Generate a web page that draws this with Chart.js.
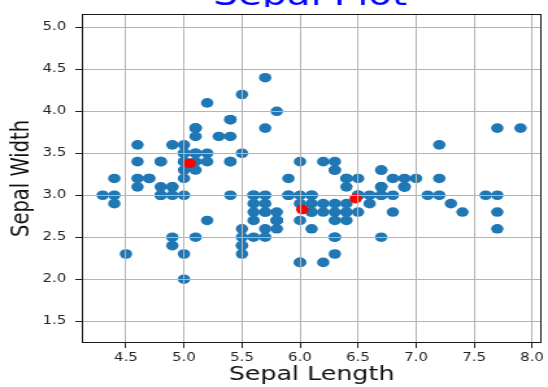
<!DOCTYPE html>
<html>
<head>
<meta charset="utf-8">
<script src="https://cdn.jsdelivr.net/npm/chart.js@4/dist/chart.umd.min.js"></script>
<style>
  html, body { margin: 0; padding: 0; background: #fff; overflow: hidden; }
  /* the plot is rendered narrow and widened to the page width */
  #plot { display: block; transform: scaleX(1.2986); transform-origin: 0 0; }
</style>
</head>
<body>
<canvas id="plot" width="422" height="387" style="width:422px;height:387px"></canvas>
<script>
const sepalLength = [
  5.1,4.9,4.7,4.6,5.0,5.4,4.6,5.0,4.4,4.9,5.4,4.8,4.8,4.3,5.8,5.7,5.4,5.1,5.7,5.1,5.4,5.1,4.6,5.1,4.8,
  5.0,5.0,5.2,5.2,4.7,4.8,5.4,5.2,5.5,4.9,5.0,5.5,4.9,4.4,5.1,5.0,4.5,4.4,5.0,5.1,4.8,5.1,4.6,5.3,5.0,
  7.0,6.4,6.9,5.5,6.5,5.7,6.3,4.9,6.6,5.2,5.0,5.9,6.0,6.1,5.6,6.7,5.6,5.8,6.2,5.6,5.9,6.1,6.3,6.1,6.4,
  6.6,6.8,6.7,6.0,5.7,5.5,5.5,5.8,6.0,5.4,6.0,6.7,6.3,5.6,5.5,5.5,6.1,5.8,5.0,5.6,5.7,5.7,6.2,5.1,5.7,
  6.3,5.8,7.1,6.3,6.5,7.6,4.9,7.3,6.7,7.2,6.5,6.4,6.8,5.7,5.8,6.4,6.5,7.7,7.7,6.0,6.9,5.6,7.7,6.3,6.7,
  7.2,6.2,6.1,6.4,7.2,7.4,7.9,6.4,6.3,6.1,7.7,6.3,6.4,6.0,6.9,6.7,6.9,5.8,6.8,6.7,6.7,6.3,6.5,6.2,5.9
];
const sepalWidth = [
  3.5,3.0,3.2,3.1,3.6,3.9,3.4,3.4,2.9,3.1,3.7,3.4,3.0,3.0,4.0,4.4,3.9,3.5,3.8,3.8,3.4,3.7,3.6,3.3,3.4,
  3.0,3.4,3.5,3.4,3.2,3.1,3.4,4.1,4.2,3.1,3.2,3.5,3.6,3.0,3.4,3.5,2.3,3.2,3.5,3.8,3.0,3.8,3.2,3.7,3.3,
  3.2,3.2,3.1,2.3,2.8,2.8,3.3,2.4,2.9,2.7,2.0,3.0,2.2,2.9,2.9,3.1,3.0,2.7,2.2,2.5,3.2,2.8,2.5,2.8,2.9,
  3.0,2.8,3.0,2.9,2.6,2.4,2.4,2.7,2.7,3.0,3.4,3.1,2.3,3.0,2.5,2.6,3.0,2.6,2.3,2.7,3.0,2.9,2.9,2.5,2.8,
  3.3,2.7,3.0,2.9,3.0,3.0,2.5,2.9,2.5,3.6,3.2,2.7,3.0,2.5,2.8,3.2,3.0,3.8,2.6,2.2,3.2,2.8,2.8,2.7,3.3,
  3.2,2.8,3.0,2.8,3.0,2.8,3.8,2.8,2.8,2.6,3.0,3.4,3.1,3.0,3.1,3.1,3.1,2.7,3.2,3.3,3.0,2.5,3.0,3.4,3.0
];

// cluster centres
const centroidLength = [5.05, 6.02, 6.48];
const centroidWidth = [3.38, 2.83, 2.96];

const xTicks = [4.5, 5.0, 5.5, 6.0, 6.5, 7.0, 7.5, 8.0];
const yTicks = [1.5, 2.0, 2.5, 3.0, 3.5, 4.0, 4.5, 5.0];

const titleText = 'Sepal Plot';
const xLabel = 'Sepal Length';
const yLabel = 'Sepal Width';

const FONT = '"DejaVu Sans", sans-serif';

const toPoints = (xs, ys) => xs.map((x, i) => ({x: x, y: ys[i]}));

// frame on all four sides + title sitting above the axes
const framePlugin = {
  id: 'frame',
  afterDraw(chart) {
    const ctx = chart.ctx;
    const a = chart.chartArea;
    ctx.save();
    ctx.strokeStyle = '#1a1a1a';
    ctx.lineWidth = 1;
    ctx.strokeRect(Math.round(a.left) + 0.5, Math.round(a.top) + 0.5,
      Math.round(a.right - a.left) - 1, Math.round(a.bottom - a.top) - 1);
    ctx.beginPath();
    ctx.rect(0, 0, chart.width, 7);
    ctx.clip();
    ctx.fillStyle = '#0000ff';
    ctx.font = '30px ' + FONT;
    ctx.textAlign = 'center';
    ctx.textBaseline = 'alphabetic';
    ctx.fillText(titleText, (a.left + a.right) / 2 - 1, 5);
    ctx.restore();
  }
};

const gridOpts = {color: '#b4b4b4', lineWidth: 1, z: 1, tickLength: 5, tickColor: '#222', tickWidth: 1};

new Chart(document.getElementById('plot'), {
  type: 'scatter',
  data: {
    datasets: [
      {
        label: 'samples',
        data: toPoints(sepalLength, sepalWidth),
        backgroundColor: '#1f77b4',
        borderWidth: 0,
        pointRadius: 4.8,
        pointHoverRadius: 4.8,
        order: 2
      },
      {
        label: 'centres',
        data: toPoints(centroidLength, centroidWidth),
        backgroundColor: '#ff0000',
        borderWidth: 0,
        pointRadius: 4.8,
        pointHoverRadius: 4.8,
        order: 1
      }
    ]
  },
  options: {
    responsive: false,
    animation: false,
    devicePixelRatio: 1,
    layout: {padding: {top: 8, right: 2, left: 0, bottom: 0}},
    plugins: {
      legend: {display: false},
      tooltip: {enabled: false}
    },
    scales: {
      x: {
        type: 'linear',
        min: 4.12,
        max: 8.08,
        afterBuildTicks: s => { s.ticks = xTicks.map(v => ({value: v})); },
        afterFit: s => { s.height = 44; },
        grid: gridOpts,
        border: {display: false},
        ticks: {
          color: '#222', font: {family: FONT, size: 11.5}, padding: 3,
          maxRotation: 0, autoSkip: false,
          callback: v => Number(v).toFixed(1)
        },
        title: {
          display: true, text: xLabel, color: '#111',
          font: {family: FONT, size: 19.5}, padding: {top: 0, bottom: 0}
        }
      },
      y: {
        type: 'linear',
        min: 1.24,
        max: 5.16,
        afterBuildTicks: s => { s.ticks = yTicks.map(v => ({value: v})); },
        afterFit: s => { s.width = 63; },
        grid: gridOpts,
        border: {display: false},
        ticks: {
          color: '#222', font: {family: FONT, size: 11.5}, padding: 7,
          autoSkip: false,
          callback: v => Number(v).toFixed(1)
        },
        title: {
          display: true, text: yLabel, color: '#111',
          font: {family: FONT, size: 19.5}, padding: {top: 5, bottom: 0}
        }
      }
    }
  },
  plugins: [framePlugin]
});
</script>
</body>
</html>
